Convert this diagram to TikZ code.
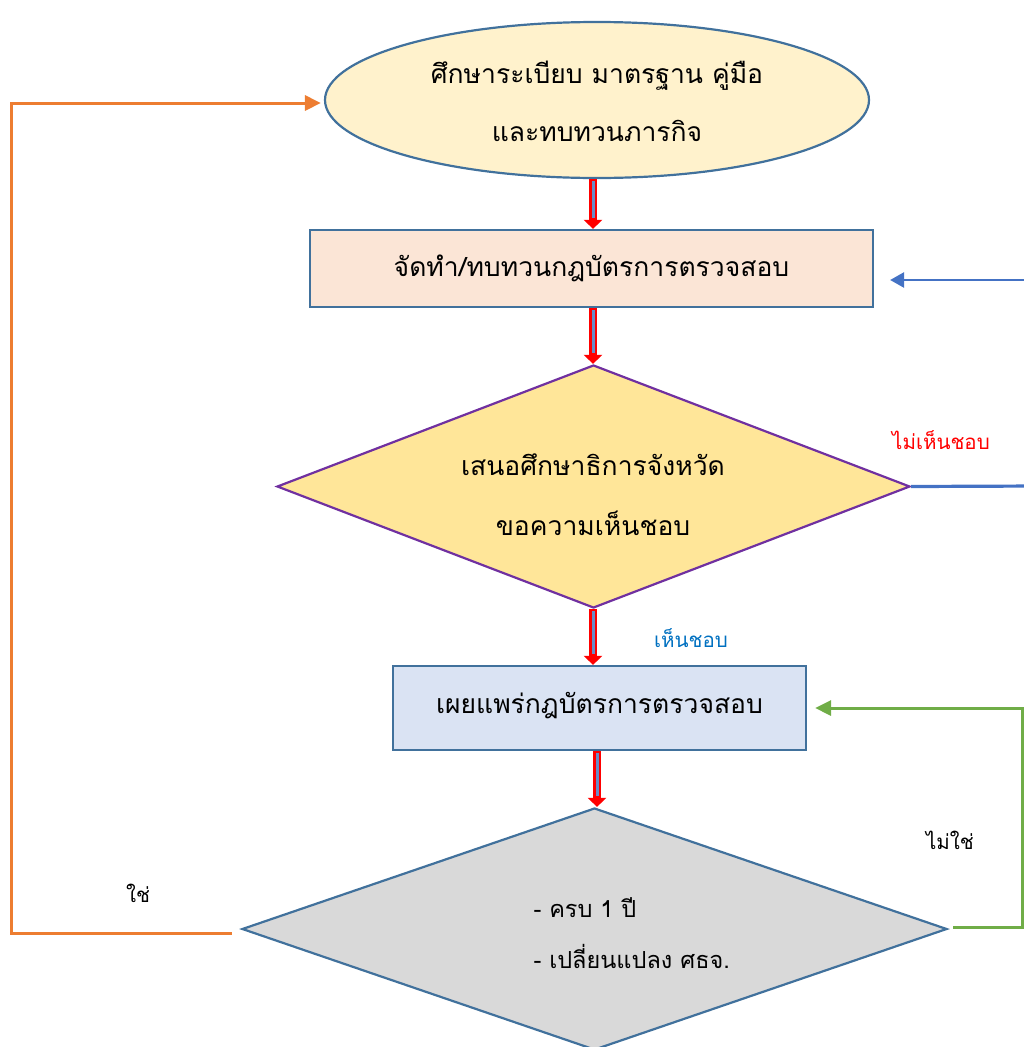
\documentclass[tikz,border=0pt]{standalone}
\usepackage{fontspec}
\usetikzlibrary{shapes.geometric,arrows.meta,calc}
\newfontfamily\thai[Script=Thai]{Loma}
\definecolor{bdblue}{HTML}{41719C}
\definecolor{ellfill}{HTML}{FFF2CC}
\definecolor{peach}{HTML}{FBE5D6}
\definecolor{gold}{HTML}{FFE699}
\definecolor{purp}{HTML}{7030A0}
\definecolor{lblue}{HTML}{DAE3F3}
\definecolor{lgray}{HTML}{D9D9D9}
\definecolor{ablue}{HTML}{4472C4}
\definecolor{agreen}{HTML}{70AD47}
\definecolor{aorange}{HTML}{ED7D31}
\definecolor{tblue}{HTML}{0070C0}
\definecolor{shaft}{HTML}{6A8CC7}
\tikzset{
  mainfont/.style={font=\thai\fontsize{26.5}{58}\selectfont},
  lblfont/.style={font=\thai\fontsize{20.5}{24}\selectfont},
  boxst/.style={draw=bdblue, line width=2.2pt, inner sep=0pt},
  redarrow/.style={draw=red, line width=8pt, -{Triangle[length=9pt,width=18pt]}},
  redcore/.style={draw=shaft, line width=3pt},
}
\begin{document}
\begin{tikzpicture}[x=1pt,y=-1pt]
\useasboundingbox (0,0) rectangle (1024,1047);
% shapes
\node[boxst, ellipse, fill=ellfill, minimum width=544pt, minimum height=156pt] (ell) at (597,100) {};
\node[mainfont, align=center] (ellt) at (597,101) {ศึกษาระเบียบ มาตรฐาน คู่มือ\\และทบทวนภารกิจ};
\node[boxst, rectangle, fill=peach, minimum width=563pt, minimum height=77pt] (b1) at (591.5,268.5) {};
\node[mainfont] (b1t) at (591.5,268.5) {จัดทำ/ทบทวนกฎบัตรการตรวจสอบ};
\node[boxst, draw=purp, diamond, fill=gold, minimum width=633pt, minimum height=243pt] (d1) at (593.5,486.5) {};
\node[mainfont, align=center, font=\thai\fontsize{26.5}{60}\selectfont] (d1t) at (593,495) {เสนอศึกษาธิการจังหวัด\\ขอความเห็นชอบ};
\node[boxst, rectangle, fill=lblue, minimum width=413pt, minimum height=84pt] (b2) at (599.5,708) {};
\node[mainfont] (b2t) at (599.5,706) {เผยแพร่กฎบัตรการตรวจสอบ};
\node[boxst, diamond, fill=lgray, minimum width=705pt, minimum height=242pt] (d2) at (594.5,929) {};
\node[align=left, anchor=west, font=\thai\fontsize{23.5}{51}\selectfont] (d2t) at (530,933) {- ครบ 1 ปี\\- เปลี่ยนแปลง ศธจ.};
% labels
\node[lblfont, text=red] (l1) at (941,440) {ไม่เห็นชอบ};
\node[lblfont, text=tblue] (l2) at (691,638) {เห็นชอบ};
\node[lblfont] (l3) at (950,840) {ไม่ใช่};
\node[lblfont] (l4) at (138,893) {ใช่};
% red block arrows
\coordinate (xa) at (593,0);
\coordinate (xb) at (597,0);
\foreach \a/\b/\x in {ell.south/b1.north/xa, b1.south/d1.north/xa, d1.south/b2.north/xa, b2.south/d2.north/xb}{
  \draw[redarrow] (\a -| \x) -- (\b -| \x);
  \draw[redcore] ($(\a -| \x)+(0,2)$) -- ($(\b -| \x)+(0,-11)$);
}
% blue
\coordinate (br1) at (1040,486);
\coordinate (br2) at (1040,280);
\draw[ablue, line width=3.2pt] (d1.east) -- (br1);
\draw[ablue, line width=2.6pt, -{Triangle[length=14pt,width=15pt]}, shorten >=16pt] (br2) -- (b1.east|-br2);
% green
\coordinate (gc) at (1022,927);
\draw[agreen, line width=3pt, -{Triangle[length=16pt,width=15pt]}, shorten <=5pt, shorten >=8pt] (d2.east|-gc) -- (gc) |- (b2.east);
% orange
\coordinate (oc) at (11,933);
\draw[aorange, line width=3pt, -{Triangle[length=16pt,width=15pt]}, shorten <=9pt, shorten >=3pt] (d2.west|-oc) -- (oc) |- ($(ell.west)+(0,3)$);
\end{tikzpicture}
\end{document}
